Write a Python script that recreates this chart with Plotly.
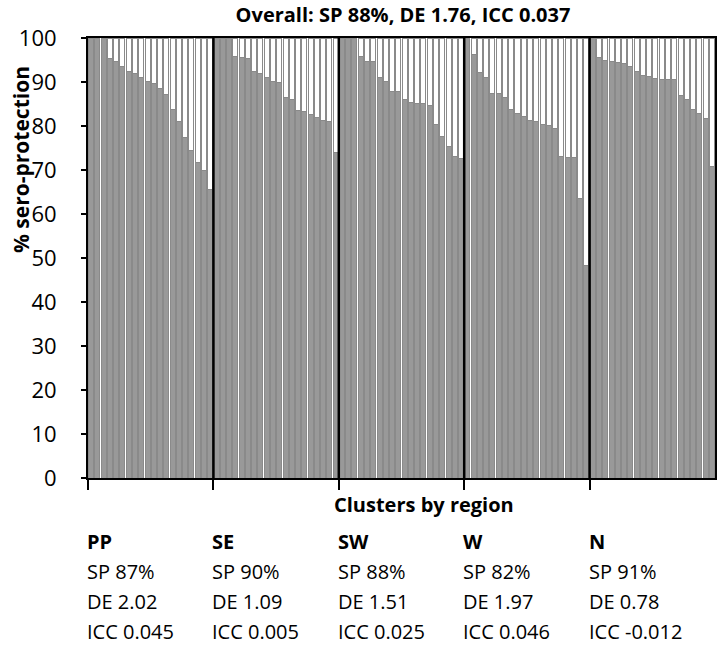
import plotly.graph_objects as go

regions = ["PP", "SE", "SW", "W", "N"]
sp = ["SP 87%", "SP 90%", "SP 88%", "SP 82%", "SP 91%"]
de = ["DE 2.02", "DE 1.09", "DE 1.51", "DE 1.97", "DE 0.78"]
icc = ["ICC 0.045", "ICC 0.005", "ICC 0.025", "ICC 0.046", "ICC -0.012"]

pp_vals = [100, 100, 100, 95.3, 94.6, 93.5, 92.5, 91.9, 91.1, 90.2, 89.6, 88.6, 87.2, 83.8, 81.0, 77.5, 74.4, 71.8, 70.0, 65.6]
se_vals = [100, 100, 100, 95.9, 95.5, 95.3, 92.5, 91.9, 91.1, 90.2, 90.0, 86.4, 86.0, 83.5, 83.4, 82.6, 81.9, 81.3, 81.0, 73.9]
sw_vals = [100, 100, 100, 95.9, 94.7, 94.7, 91.1, 90.2, 87.8, 87.8, 86.0, 85.4, 85.1, 85.1, 84.7, 80.3, 77.7, 75.4, 73.1, 72.6]
w_vals = [100, 96.2, 92.1, 91.1, 87.3, 87.3, 86.4, 83.7, 82.8, 82.1, 81.3, 81.1, 80.3, 80.2, 79.4, 73.1, 72.8, 72.8, 63.5, 48.4]
n_vals = [100, 95.5, 94.9, 94.6, 94.4, 94.2, 93.6, 92.5, 91.5, 91.3, 90.8, 90.6, 90.6, 90.6, 87.0, 86.0, 83.7, 82.8, 81.6, 70.9]

title = "Overall: SP 88%, DE 1.76, ICC 0.037"
x_title = "Clusters by region"
y_title = "% sero-protection"

groups = [pp_vals, se_vals, sw_vals, w_vals, n_vals]
values = [v for g in groups for v in g]
xs = list(range(len(values)))
rest = [100 - v for v in values]

boundaries = [-0.5]
for g in groups:
    boundaries.append(boundaries[-1] + len(g))

GRAY = "#999999"
EDGE = "#8a8a8a"
FONT = "Open Sans"

fig = go.Figure()
fig.add_trace(go.Bar(x=xs, y=values, marker=dict(color=GRAY, line=dict(color=EDGE, width=1)),
                     showlegend=False, hoverinfo="y"))
fig.add_trace(go.Bar(x=xs, y=rest, marker=dict(color="white", line=dict(color=EDGE, width=1)),
                     showlegend=False, hoverinfo="skip"))

for b in boundaries[1:-1]:
    fig.add_shape(type="line", x0=b, x1=b, y0=0, y1=100, xref="x", yref="y",
                  line=dict(color="black", width=2.5))

L, R = 88, 5
W = 720 - L - R
H = 440
TOP = 38
bottom_px = TOP + H
def py(ypx):
    return (bottom_px - ypx) / H
def px(xpx):
    return (xpx - L) / W

annos = []
for i, r in enumerate(regions):
    x0 = boundaries[i]
    for txt, ypx, bold in [(r, 541, True), (sp[i], 571, False), (de[i], 601, False), (icc[i], 631, False)]:
        annos.append(dict(x=x0, y=py(ypx), xref="x", yref="paper", xanchor="left", yanchor="middle",
                          text=f"<b>{txt}</b>" if bold else txt, showarrow=False, xshift=-2, borderpad=0,
                          font=dict(family=FONT, size=20, color="black")))
annos.append(dict(x=px(424), y=py(505), xref="paper", yref="paper", xanchor="center", yanchor="middle",
                  text=f"<b>{x_title}</b>", showarrow=False, font=dict(family=FONT, size=20, color="black")))
annos.append(dict(x=px(21), y=py(160), xref="paper", yref="paper", xanchor="center", yanchor="middle",
                  text=f"<b>{y_title}</b>", textangle=-90, showarrow=False,
                  font=dict(family=FONT, size=21, color="black")))

fig.update_layout(
    width=720, height=645,
    margin=dict(l=L, r=R, t=TOP, b=645 - bottom_px, autoexpand=False),
    plot_bgcolor="white", paper_bgcolor="white",
    barmode="stack", bargap=0.2,
    title=dict(text=f"<b>{title}</b>", x=403 / 720, xanchor="center", y=1 - 14.5 / 645, yanchor="middle",
               font=dict(family=FONT, size=20, color="black")),
    annotations=annos,
    font=dict(family=FONT, color="black"),
)
fig.update_xaxes(range=[boundaries[0], boundaries[-1]], tickmode="array", tickvals=boundaries[:-1],
                 showticklabels=False, ticks="outside", ticklen=10, tickwidth=2, tickcolor="black",
                 automargin=False,
                 showline=True, linecolor="black", linewidth=2, mirror=True, showgrid=False, zeroline=False)
fig.update_yaxes(range=[0, 100], tickmode="array", tickvals=list(range(0, 101, 10)),
                 ticks="outside", ticklen=5, tickwidth=1.5, tickcolor="black",
                 tickfont=dict(family=FONT, size=22, color="black"), ticklabelstandoff=20,
                 automargin=False,
                 showline=True, linecolor="black", linewidth=2, mirror=True, showgrid=False, zeroline=False)

fig.write_html("out.html", post_script="document.body.style.margin='0';",
               config={"displayModeBar": False})
